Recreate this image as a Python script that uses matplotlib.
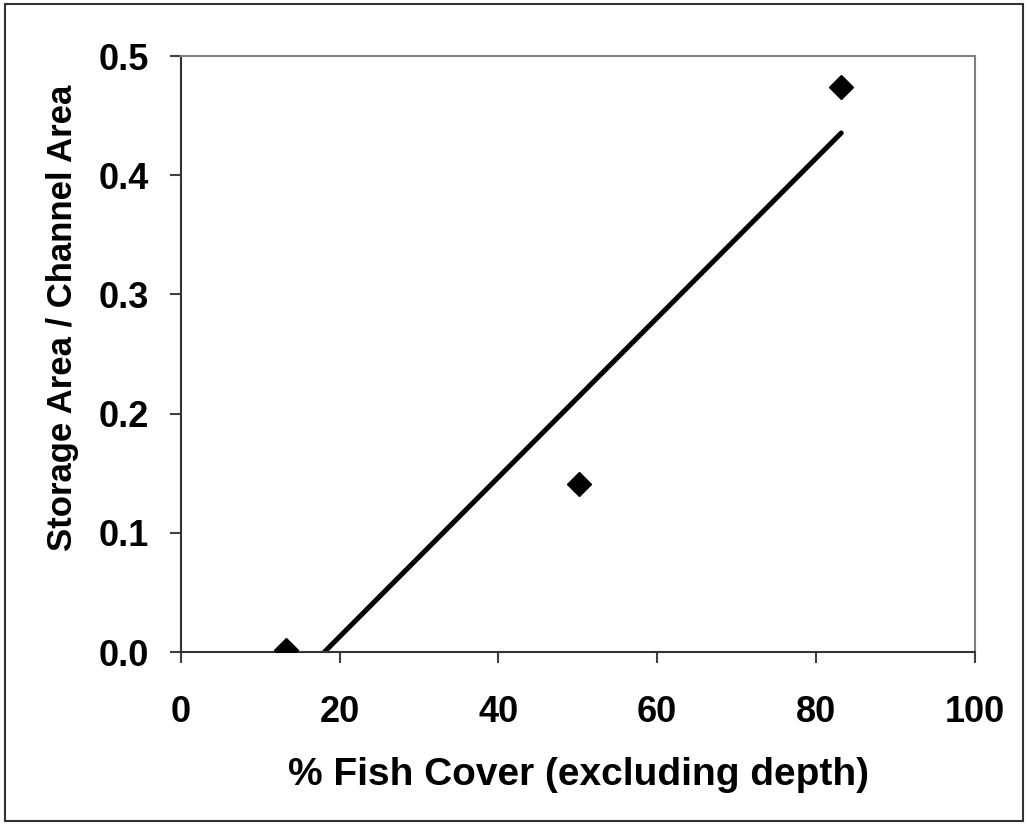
import numpy as np
import matplotlib.pyplot as plt
from matplotlib.patches import Rectangle

# data
fish_cover = [13.2, 50.1, 83.2]
storage_ratio = [0.002, 0.141, 0.474]

plt.rcParams['font.family'] = ['Liberation Sans', 'DejaVu Sans']
plt.rcParams['font.weight'] = 'bold'

fig = plt.figure(figsize=(10.28, 8.24), dpi=100)
ax = fig.add_axes([0.176, 0.2087, 0.772, 0.7233])

# linear trend, cut off at the x axis like the original
slope, icpt = np.polyfit(fish_cover, storage_ratio, 1)
x0 = -icpt / slope
xs = np.array([x0, max(fish_cover)])
ax.plot(xs, slope * xs + icpt, color='black', lw=3.6, solid_capstyle='round', zorder=2)

ax.plot(fish_cover, storage_ratio, ls='none', marker='D', ms=12, color='black', zorder=3)

ax.set_xlim(0, 100)
ax.set_ylim(0, 0.5)
ax.set_xticks([0, 20, 40, 60, 80, 100])
ax.set_yticks([0, 0.1, 0.2, 0.3, 0.4, 0.5])
ax.set_yticklabels(['0.0', '0.1', '0.2', '0.3', '0.4', '0.5'])
ax.tick_params(direction='out', length=8, width=1.5, color='#404040', labelsize=26)
ax.tick_params(axis='x', pad=23)
ax.tick_params(axis='y', pad=15)

for s in ['left', 'bottom']:
    ax.spines[s].set_color('#333333')
    ax.spines[s].set_linewidth(1.5)
for s in ['top', 'right']:
    ax.spines[s].set_color('#808080')
    ax.spines[s].set_linewidth(1.5)

ax.set_xlabel('% Fish Cover (excluding depth)', fontsize=28, fontweight='bold', va='baseline')
ax.xaxis.set_label_coords(578 / 1028, 1 - 785 / 824, transform=fig.transFigure)
ax.set_ylabel('Storage Area / Channel Area', fontsize=25, fontweight='bold', va='baseline')
ax.yaxis.set_label_coords(72 / 1028, 1 - 318 / 824, transform=fig.transFigure)

# outer frame
fig.patches.append(Rectangle((0.005, 0.004), 0.99, 0.991, transform=fig.transFigure,
                             fill=False, edgecolor='#333333', lw=1.5))

fig.savefig('out.png', dpi=100)
